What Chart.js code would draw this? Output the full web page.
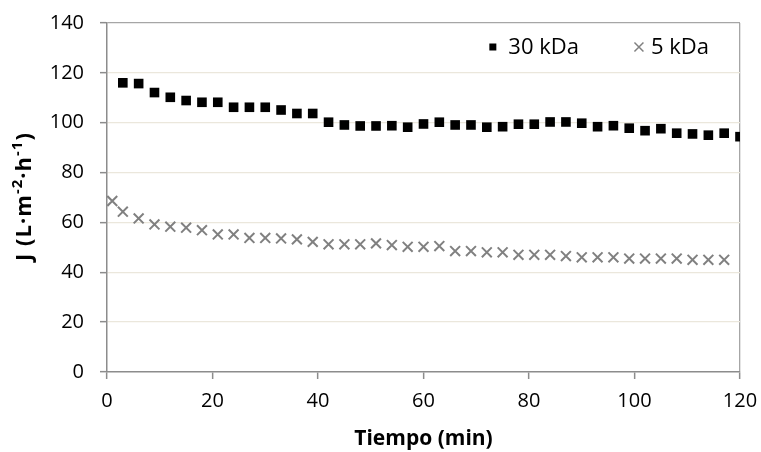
<!DOCTYPE html>
<html>
<head>
<meta charset="utf-8">
<script src="https://cdn.jsdelivr.net/npm/chart.js@4.4.1/dist/chart.umd.min.js"></script>
<style>
  html, body { margin: 0; padding: 0; background: #fff; }
  canvas { display: block; }
</style>
</head>
<body>
<canvas id="fluxChart" width="761" height="452"></canvas>
<script>
// Tiempo (min) y flujo J para cada membrana
const time30 = [3, 6, 9, 12, 15, 18, 21, 24, 27, 30, 33, 36, 39, 42, 45, 48, 51, 54, 57, 60,
                63, 66, 69, 72, 75, 78, 81, 84, 87, 90, 93, 96, 99, 102, 105, 108, 111, 114, 117, 120];
const flux30 = [116.0, 115.7, 112.1, 110.2, 108.9, 108.2, 108.2, 106.2, 106.2, 106.2,
                105.1, 103.7, 103.7, 100.2, 99.1, 98.7, 98.7, 98.8, 98.2, 99.5,
                100.2, 99.1, 99.1, 98.2, 98.4, 99.4, 99.4, 100.3, 100.3, 99.8,
                98.4, 98.8, 97.8, 96.8, 97.6, 95.8, 95.5, 95.0, 95.8, 94.4];

const time5 = [1, 3, 6, 9, 12, 15, 18, 21, 24, 27, 30, 33, 36, 39, 42, 45, 48, 51, 54, 57, 60,
               63, 66, 69, 72, 75, 78, 81, 84, 87, 90, 93, 96, 99, 102, 105, 108, 111, 114, 117];
const flux5 = [68.6, 64.3, 61.6, 59.2, 58.3, 57.9, 56.9, 55.2, 55.2, 53.8, 53.8,
               53.6, 53.2, 52.2, 51.2, 51.2, 51.2, 51.6, 50.9, 50.2, 50.2,
               50.5, 48.5, 48.5, 48.0, 48.0, 47.0, 47.0, 47.0, 46.5, 46.0,
               46.0, 46.0, 45.5, 45.5, 45.5, 45.5, 45.0, 45.0, 45.0];

const seriesLabels = ['30 kDa', '5 kDa'];
const xTitle = 'Tiempo (min)';
// título del eje Y en trozos: [texto, superíndice]
const yTitleParts = [['J (L·m', false], ['-2', true], ['·h', false], ['-1', true], [')', false]];

const FONT = '"Open Sans", "DejaVu Sans", sans-serif';
const AXIS_GRAY = '#8c8c8c';
const GRID_BEIGE = '#ebe7dc';

function toPoints(xs, ys) {
    return xs.map((x, i) => ({ x: x, y: ys[i] }));
}

// leyenda dentro del área de trazado, arriba a la derecha
const insideLegend = {
    id: 'insideLegend',
    afterDraw(chart) {
        const { ctx, chartArea } = chart;
        ctx.save();
        ctx.font = '22px ' + FONT;
        ctx.textBaseline = 'middle';
        const y = chartArea.top + 24;
        let x = chartArea.right - 31;
        for (let i = chart.data.datasets.length - 1; i >= 0; i--) {
            const ds = chart.data.datasets[i];
            const w = ctx.measureText(ds.label).width;
            ctx.fillStyle = '#000';
            ctx.fillText(ds.label, x - w, y + 1);
            x -= w;
            if (ds.pointStyle === 'rect') {
                const cx = x - 15.5;
                ctx.fillStyle = ds.backgroundColor;
                ctx.fillRect(cx - 3.5, y - 3.5, 7, 7);
                x = cx;
            } else {
                const cx = x - 12;
                ctx.strokeStyle = ds.borderColor;
                ctx.lineWidth = 1.5;
                ctx.beginPath();
                ctx.moveTo(cx - 4.5, y - 4.5); ctx.lineTo(cx + 4.5, y + 4.5);
                ctx.moveTo(cx + 4.5, y - 4.5); ctx.lineTo(cx - 4.5, y + 4.5);
                ctx.stroke();
                x = cx;
            }
            x -= 60;
        }
        ctx.restore();
    }
};

// título vertical del eje Y con superíndices
const yAxisTitle = {
    id: 'yAxisTitle',
    afterDraw(chart) {
        const { ctx, chartArea } = chart;
        const mainFont = 'bold 22px ' + FONT;
        const supFont = 'bold 15px ' + FONT;
        ctx.save();
        ctx.letterSpacing = '1px';
        let total = 0;
        yTitleParts.forEach(([txt, sup]) => {
            ctx.font = sup ? supFont : mainFont;
            total += ctx.measureText(txt).width;
        });
        ctx.translate(23, (chartArea.top + chartArea.bottom) / 2 - 1);
        ctx.rotate(-Math.PI / 2);
        ctx.fillStyle = '#000';
        ctx.textBaseline = 'alphabetic';
        let x = -total / 2;
        yTitleParts.forEach(([txt, sup]) => {
            ctx.font = sup ? supFont : mainFont;
            ctx.fillText(txt, x, sup ? -1.5 : 8);
            x += ctx.measureText(txt).width;
        });
        ctx.restore();
    }
};

const ctx = document.getElementById('fluxChart').getContext('2d');
const fluxChart = new Chart(ctx, {
    type: 'scatter',
    data: {
        datasets: [{
            label: seriesLabels[0],
            data: toPoints(time30, flux30),
            pointStyle: 'rect',
            pointRadius: 6.8,
            backgroundColor: '#000',
            borderColor: '#000',
            borderWidth: 0
        }, {
            label: seriesLabels[1],
            data: toPoints(time5, flux5),
            pointStyle: 'crossRot',
            pointRadius: 7,
            backgroundColor: '#808080',
            borderColor: '#808080',
            borderWidth: 2
        }]
    },
    options: {
        responsive: false,
        animation: false,
        layout: { padding: { top: 23, right: 21, left: 0, bottom: 0 } },
        plugins: {
            legend: { display: false },
            tooltip: { enabled: false }
        },
        scales: {
            x: {
                type: 'linear',
                min: 0,
                max: 120,
                afterFit(scale) {
                    scale.height = 80;
                    scale.paddingLeft = 0;
                    scale.paddingRight = 0;
                },
                ticks: {
                    stepSize: 20,
                    padding: 10,
                    color: '#000',
                    font: { family: FONT, size: 20 }
                },
                grid: {
                    color: (c) => c.tick && c.tick.value === 120 ? '#a6a6a6' : 'rgba(0,0,0,0)',
                    lineWidth: 1.3,
                    tickColor: AXIS_GRAY,
                    tickLength: 7,
                    tickWidth: 1.5
                },
                border: { color: AXIS_GRAY, width: 1.5 },
                title: {
                    display: true,
                    text: xTitle,
                    color: '#000',
                    font: { family: FONT, size: 21, weight: 'bold' },
                    padding: { top: 0, bottom: 0 }
                }
            },
            y: {
                min: 0,
                max: 140,
                afterFit(scale) {
                    scale.width = 107;
                    scale.paddingTop = 0;
                    scale.paddingBottom = 0;
                },
                ticks: {
                    stepSize: 20,
                    padding: 16,
                    color: '#000',
                    font: { family: FONT, size: 20 }
                },
                grid: {
                    color: (c) => {
                        if (!c.tick) return GRID_BEIGE;
                        if (c.tick.value === 140) return '#a6a6a6';
                        if (c.tick.value === 0) return 'rgba(0,0,0,0)';
                        return GRID_BEIGE;
                    },
                    lineWidth: 1.3,
                    tickColor: AXIS_GRAY,
                    tickLength: 7,
                    tickWidth: 1.5
                },
                border: { color: AXIS_GRAY, width: 1.5 }
            }
        }
    },
    plugins: [insideLegend, yAxisTitle]
});
</script>
</body>
</html>
